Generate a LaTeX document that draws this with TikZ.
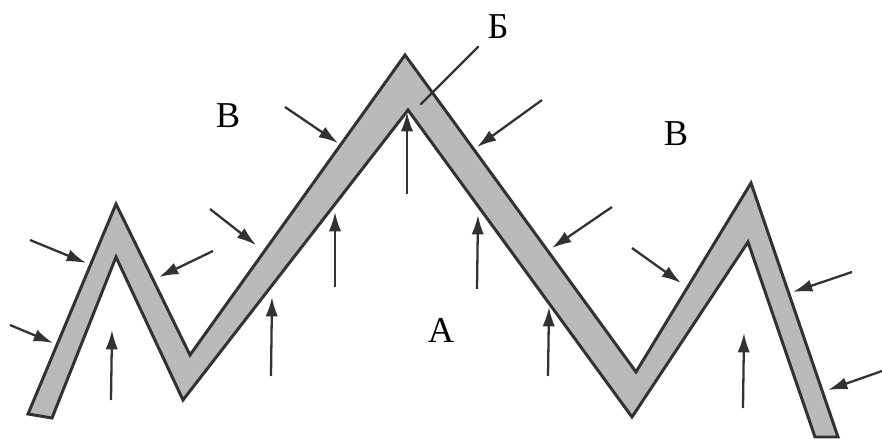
\documentclass[tikz,border=0pt]{standalone}
\usepackage{fontspec}
\setmainfont{Liberation Serif}
\usetikzlibrary{arrows.meta}
\definecolor{band}{RGB}{186,186,186}
\definecolor{ink}{RGB}{50,50,50}

\begin{document}
\begin{tikzpicture}[x=0.02cm,y=-0.02cm,
  arr/.style={ink,line width=1.3pt,-{Latex[length=11pt,width=7pt]}},
  lbl/.style={font=\huge}]
\useasboundingbox (0,0) rectangle (882,439);
% the folded band
\filldraw[fill=band,draw=ink,line width=1.7pt,line join=miter]
  (28,414) -- (116,204) -- (190,355) -- (405,55) -- (636,372) -- (751,183)
  -- (838,437) -- (815,437) -- (748,242) -- (632,417) -- (408,110)
  -- (183,400) -- (116,257) -- (52,418) -- cycle;
% labels
\node[lbl] (vl) at (228,116) {В};
\node[lbl] (vr) at (676,134) {В};
\node[lbl] (a) at (441,330) {А};
\node[lbl] (b) at (498,27) {Б};
\coordinate (bt) at (478,47);
\coordinate (bh) at (421,104);
\draw[ink,line width=1.3pt,line cap=round] (bt) -- (bh);
% arrows: tail x/y, head x/y
\foreach \n/\tx/\ty/\hx/\hy in {
  1/30/240/86/263, 2/10/325/53/343, 3/111/400/112/330,
  4/213/251/159/277, 5/210/209/256/245, 6/271/376/272/297,
  7/285/107/338/143, 8/335/287/335/212, 9/407/194/407/112,
  10/542/100/477/147, 11/477/289/478/215, 12/612/207/552/248,
  13/548/376/549/307, 14/632/248/681/283, 15/743/408/744/333,
  16/852/272/793/292, 17/882/371/828/390}
{
  \coordinate (t\n) at (\tx,\ty);
  \coordinate (h\n) at (\hx,\hy);
  \draw[arr] (t\n) -- (h\n);
}
\end{tikzpicture}
\end{document}
